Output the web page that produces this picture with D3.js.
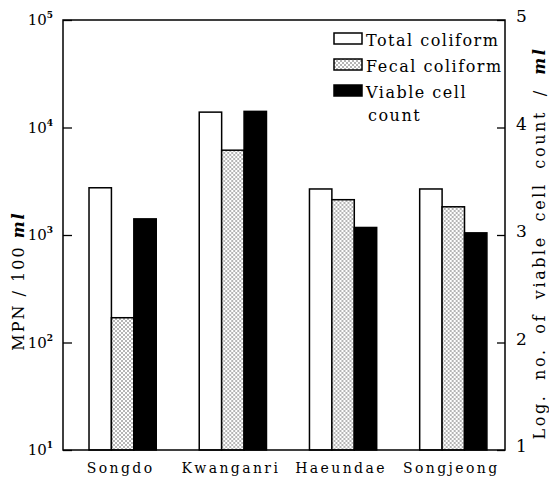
<!DOCTYPE html>
<html>
<head>
<meta charset="utf-8">
<script src="https://cdn.jsdelivr.net/npm/d3@7"></script>
<style>
    body { margin: 0; background: #fff; }
    svg { display: block; }
</style>
</head>
<body>
<div id="chart-area"></div>
<script>
// sites and measured values
const sites = ["Songdo", "Kwanganri", "Haeundae", "Songjeong"];
const totalColiform = [2750, 13900, 2680, 2680];     // MPN / 100 ml
const fecalColiform = [170, 6150, 2130, 1830];       // MPN / 100 ml
const viableCount = [3.15, 4.15, 3.07, 3.02];        // log no. / ml (right axis)

const seriesNames = ["Total coliform", "Fecal coliform", "Viable cell count"];
const leftTicks = [1, 2, 3, 4, 5];     // exponents of 10
const rightTicks = [1, 2, 3, 4, 5];

const FONT = "DejaVu Serif";
const MARGIN = {LEFT: 63, RIGHT: 44, TOP: 20, BOTTOM: 30};
const WIDTH = 549 - MARGIN.LEFT - MARGIN.RIGHT;
const HEIGHT = 480 - MARGIN.TOP - MARGIN.BOTTOM;

const svg = d3.select("#chart-area").append("svg")
    .attr("width", 549)
    .attr("height", 480)
    .attr("font-family", FONT);

// stipple fill for fecal coliform
const pat = svg.append("defs").append("pattern")
    .attr("id", "dots")
    .attr("patternUnits", "userSpaceOnUse")
    .attr("width", 4).attr("height", 4);
pat.append("rect").attr("width", 4).attr("height", 4).attr("fill", "#fff");
pat.append("circle").attr("cx", 1).attr("cy", 1).attr("r", 0.7).attr("fill", "#333");
pat.append("circle").attr("cx", 3).attr("cy", 3).attr("r", 0.7).attr("fill", "#333");

const graph = svg.append("g")
    .attr("transform", `translate(${MARGIN.LEFT}, ${MARGIN.TOP})`);

// scales
const x0 = d3.scaleBand()
    .domain(sites)
    .range([0, WIDTH])
    .paddingInner(0.39)
    .paddingOuter(0.2)
    .align(0.59);

const x1 = d3.scaleBand()
    .domain(seriesNames)
    .range([0, x0.bandwidth()]);

const yLeft = d3.scaleLog().domain([10, 1e5]).range([HEIGHT, 0]);
const yRight = d3.scaleLinear().domain([1, 5]).range([HEIGHT, 0]);

const fills = {"Total coliform": "#fff", "Fecal coliform": "url(#dots)", "Viable cell count": "#000"};

const rows = sites.map((s, i) => ({
    site: s,
    bars: [
        {key: "Total coliform", y: yLeft(totalColiform[i])},
        {key: "Fecal coliform", y: yLeft(fecalColiform[i])},
        {key: "Viable cell count", y: yRight(viableCount[i])}
    ]
}));

// bars
graph.selectAll("g.site")
    .data(rows)
    .join("g")
    .attr("class", "site")
    .attr("transform", d => `translate(${x0(d.site)}, 0)`)
    .selectAll("rect")
    .data(d => d.bars)
    .join("rect")
    .attr("x", d => x1(d.key))
    .attr("width", x1.bandwidth())
    .attr("y", d => d.y)
    .attr("height", d => HEIGHT - d.y)
    .attr("fill", d => fills[d.key])
    .attr("stroke", "#000")
    .attr("stroke-width", 1.5);

// frame
graph.append("rect")
    .attr("width", WIDTH)
    .attr("height", HEIGHT)
    .attr("fill", "none")
    .attr("stroke", "#000")
    .attr("stroke-width", 1.5);

// left axis (ticks inward)
const yAxisL = graph.append("g")
    .call(d3.axisRight(yLeft).tickValues(leftTicks.map(e => Math.pow(10, e))).tickSize(9).tickFormat(""));
yAxisL.select(".domain").remove();
yAxisL.selectAll("line").attr("stroke-width", 1.3);

const lLab = graph.selectAll("text.lt")
    .data(leftTicks)
    .join("text")
    .attr("class", "lt")
    .attr("x", -10)
    .attr("y", d => yLeft(Math.pow(10, d)) + 5)
    .attr("text-anchor", "end")
    .attr("font-size", 15);
lLab.append("tspan").text("10");
lLab.append("tspan").attr("dy", -7).attr("font-size", 9).attr("font-weight", "bold").text(d => d);

// right axis (ticks inward)
const yAxisR = graph.append("g")
    .attr("transform", `translate(${WIDTH}, 0)`)
    .call(d3.axisLeft(yRight).tickValues(rightTicks).tickSize(8).tickFormat(""));
yAxisR.select(".domain").remove();
yAxisR.selectAll("line").attr("stroke-width", 1.3);

graph.selectAll("text.rt")
    .data(rightTicks)
    .join("text")
    .attr("class", "rt")
    .attr("x", WIDTH + 11)
    .attr("y", d => yRight(d) + 2)
    .attr("font-size", 17)
    .text(d => d);

// site labels
graph.selectAll("text.site")
    .data(sites)
    .join("text")
    .attr("class", "site")
    .attr("x", d => x0(d) + x0.bandwidth() / 2 - 2)
    .attr("y", HEIGHT + 23)
    .attr("text-anchor", "middle")
    .attr("font-size", 14)
    .attr("letter-spacing", 2.4)
    .text(d => d);

// axis titles
const lt = svg.append("text")
    .attr("transform", "translate(24, 281) rotate(-90)")
    .attr("text-anchor", "middle")
    .attr("font-size", 16)
    .attr("letter-spacing", 2);
lt.append("tspan").text("MPN / 100 ");
lt.append("tspan").attr("font-style", "italic").attr("font-weight", "bold").text("ml");

const rt = svg.append("text")
    .attr("transform", "translate(545, 243) rotate(-90)")
    .attr("text-anchor", "middle")
    .attr("font-size", 16)
    .attr("letter-spacing", 2.6)
    .attr("word-spacing", 6);
rt.append("tspan").text("Log. no. of viable cell count / ");
rt.append("tspan").attr("font-style", "italic").attr("font-weight", "bold").text("ml");

// legend
const legendRows = [
    {label: "Total coliform", key: "Total coliform", y: 46},
    {label: "Fecal coliform", key: "Fecal coliform", y: 72},
    {label: "Viable cell", key: "Viable cell count", y: 98}
];
const legend = svg.append("g").attr("class", "legend");
legend.selectAll("rect")
    .data(legendRows)
    .join("rect")
    .attr("x", 334)
    .attr("y", d => d.y - 13)
    .attr("width", 28)
    .attr("height", 11)
    .attr("fill", d => fills[d.key])
    .attr("stroke", "#000")
    .attr("stroke-width", 1.5);
legend.selectAll("text")
    .data(legendRows)
    .join("text")
    .attr("x", 366)
    .attr("y", d => d.y)
    .attr("font-size", 16)
    .attr("letter-spacing", 1.5)
    .text(d => d.label);
legend.append("text")
    .attr("x", 368)
    .attr("y", 121)
    .attr("font-size", 16)
    .attr("letter-spacing", 1.5)
    .text("count");
</script>
</body>
</html>
